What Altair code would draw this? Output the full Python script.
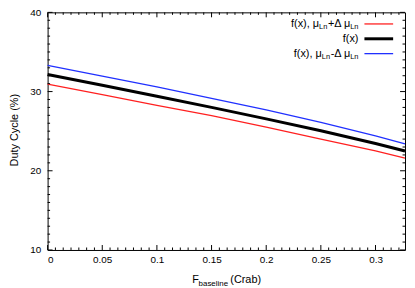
import altair as alt
import pandas as pd

# ---- values ----
x_vals = [0.0, 0.05, 0.10, 0.15, 0.20, 0.25, 0.30, 0.327]
f_plus = [30.95, 29.6, 28.25, 26.95, 25.5, 24.0, 22.5, 21.6]   # red  : mu_Ln + delta
f_mid = [32.15, 30.8, 29.4, 28.0, 26.55, 25.05, 23.45, 22.5]   # black: f(x)
f_minus = [33.3, 31.95, 30.6, 29.15, 27.7, 26.1, 24.4, 23.4]   # blue : mu_Ln - delta

series_names = ["plus", "mid", "minus"]
series_colors = ["#ff2020", "#000000", "#2030ff"]
series_widths = [1.3, 3.0, 1.3]

x_major = [0, 0.05, 0.1, 0.15, 0.2, 0.25, 0.3]
y_major = [10, 20, 30, 40]
x_minor = [k * 0.05 / 7 for k in range(1, 46) if k % 7 != 0]
y_minor = [v for v in range(11, 40) if v % 10 != 0]

X_MAX = 0.327
W, H = 361, 240
FONT = "Liberation Sans"

rows = []
for name, ys in zip(series_names, [f_plus, f_mid, f_minus]):
    for xv, yv in zip(x_vals, ys):
        rows.append({"x": xv, "y": yv, "series": name})
df = pd.DataFrame(rows)

x_scale = alt.Scale(domain=[0, X_MAX], nice=False, zero=False)
y_scale = alt.Scale(domain=[10, 40], nice=False, zero=False)
x_axis = alt.Axis(values=x_major, format="~g", labelPadding=5)
y_axis = alt.Axis(values=y_major, format="d", labelPadding=7)


def X(field):
    return alt.X(field, scale=x_scale, axis=x_axis, title=None)


def Y(field):
    return alt.Y(field, scale=y_scale, axis=y_axis, title=None)


line_layers = []
for name, color, sw in zip(series_names, series_colors, series_widths):
    line_layers.append(
        alt.Chart(df).transform_filter(alt.datum.series == name)
        .mark_line(color=color, strokeWidth=sw)
        .encode(x=X("x:Q"), y=Y("y:Q"), order=alt.Order("x:Q"))
    )

MAJ, MIN = 5, 2.5
xmaj_df = pd.DataFrame({"v": x_major})
xmin_df = pd.DataFrame({"v": x_minor})
ymaj_df = pd.DataFrame({"v": y_major})
ymin_df = pd.DataFrame({"v": y_minor})


def xticks(d, y0, y1):
    return alt.Chart(d).mark_rule(color="black", strokeWidth=1).encode(
        x=X("v:Q"), y=alt.value(y0), y2=alt.value(y1))


def yticks(d, x0, x1):
    return alt.Chart(d).mark_rule(color="black", strokeWidth=1).encode(
        y=Y("v:Q"), x=alt.value(x0), x2=alt.value(x1))


tick_layers = [
    xticks(xmaj_df, H, H - MAJ), xticks(xmin_df, H, H - MIN),
    xticks(xmaj_df, 0, MAJ), xticks(xmin_df, 0, MIN),
    yticks(ymaj_df, 0, MAJ), yticks(ymin_df, 0, MIN),
    yticks(ymaj_df, W, W - MAJ), yticks(ymin_df, W, W - MIN),
]

one = pd.DataFrame({"k": [0]})


def txt(s, px, py, size, align="left", angle=0):
    kw = dict(text=s, fontSize=size, align=align, baseline="middle", font=FONT, color="black")
    if angle:
        kw["angle"] = angle
    return alt.Chart(one).mark_text(**kw).encode(x=alt.value(px), y=alt.value(py))


# axis titles
title_layers = [
    txt("F", 146, 270.5, 11),
    txt("baseline", 152.5, 274.5, 8),
    txt("(Crab)", 184.5, 270.5, 11),
    txt("Duty Cycle (%)", -33, 119, 11, align="center", angle=270),
]

# legend
EM = {"f": .278, "(": .333, "x": .5, ")": .333, ",": .278, " ": .278, "μ": .576,
      "L": .556, "n": .556, "+": .584, "-": .333, "Δ": .668}


def tw(s, size):
    return sum(EM.get(c, .556) for c in s) * size


legend_layers = []
leg_rows = [
    ([("f(x), μ", 11, 0), ("Ln", 7.5, 3.5), ("+Δ μ", 11, 0), ("Ln", 7.5, 3.5)], 11.7),
    ([("f(x)", 11, 0)], 26.7),
    ([("f(x), μ", 11, 0), ("Ln", 7.5, 3.5), ("-Δ μ", 11, 0), ("Ln", 7.5, 3.5)], 41.7),
]
for pieces, ry in leg_rows:
    right = 314
    for s, size, dy in reversed(pieces):
        legend_layers.append(txt(s, right, ry + dy, size, align="right"))
        right -= tw(s, size)

for (pieces, ry), color, sw in zip(leg_rows, series_colors, series_widths):
    legend_layers.append(
        alt.Chart(one).mark_rule(color=color, strokeWidth=sw).encode(
            x=alt.value(320), x2=alt.value(349), y=alt.value(ry)))

chart = alt.layer(*line_layers, *tick_layers, *title_layers, *legend_layers).properties(
    width=W, height=H,
    autosize=alt.AutoSizeParams(type="none"),
    padding={"left": 40, "top": 3, "right": 2, "bottom": 37},
).configure_view(
    stroke="black", strokeWidth=1
).configure_axis(
    labelFont=FONT, labelFontSize=10, labelColor="black",
    ticks=False, domain=False, grid=False,
)

chart.save("out.html", embed_options={"renderer": "svg", "actions": False})
